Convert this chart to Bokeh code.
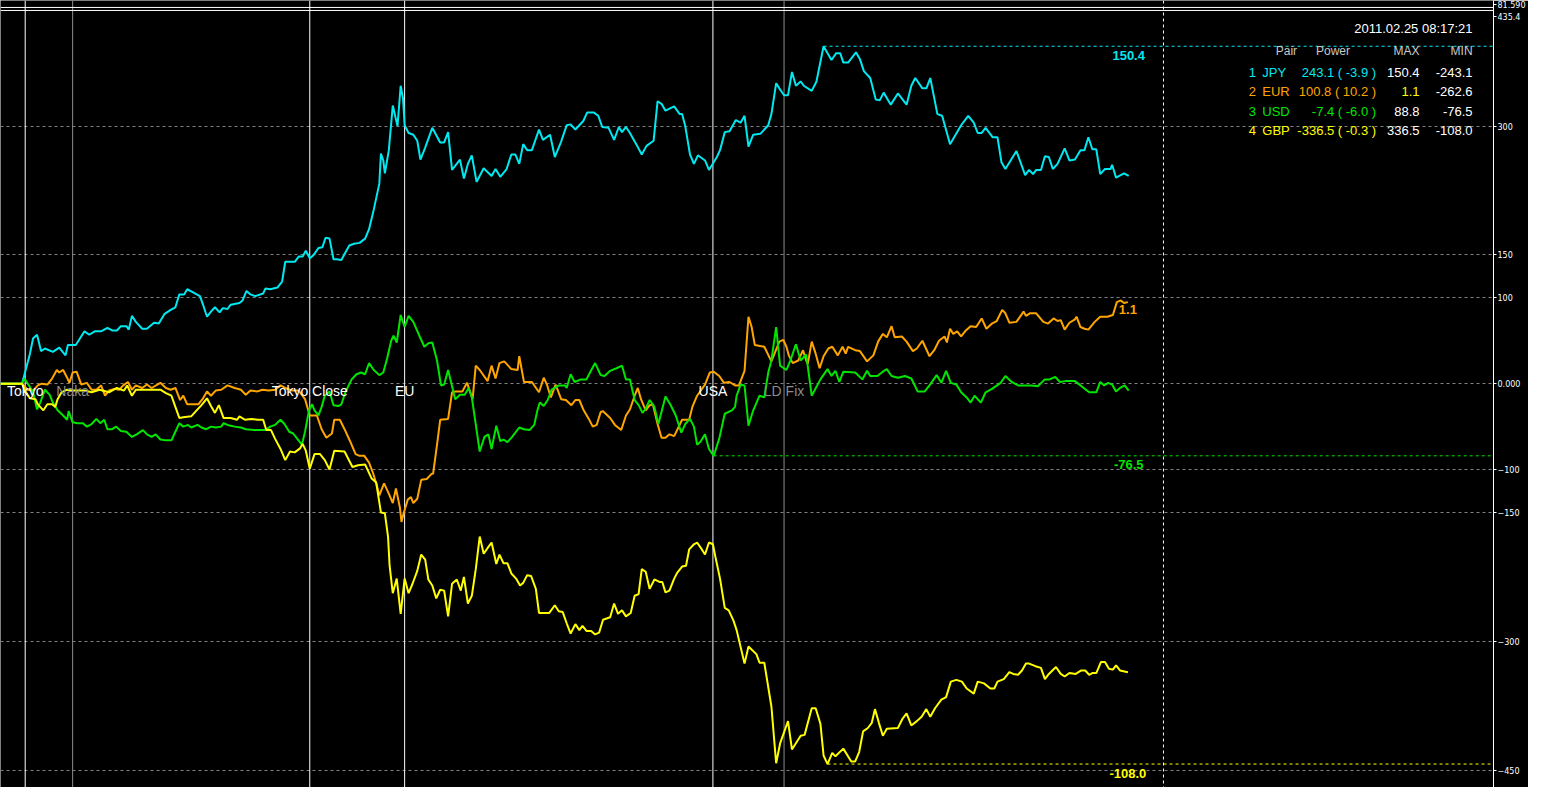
from bokeh.plotting import figure
from bokeh.models import Span, FixedTicker
from bokeh.core.properties import value
from bokeh.embed import file_html
from bokeh.resources import INLINE

# time = minutes from the Tokyo open (M5 bars), value = currency power
jpy_t = [-31, -4, 6, 10, 15, 20, 25, 35, 43, 51, 54, 64, 75, 81, 88, 96, 104, 110, 116, 121,
         128, 131, 135, 140, 148, 154, 163, 169, 176, 184, 190, 195, 201, 205, 213, 221, 225, 230, 235, 240,
         246, 250, 256, 260, 271, 275, 280, 285, 291, 301, 304, 310, 319, 325, 329, 341, 346, 351, 355, 360,
         365, 371, 376, 380, 385, 390, 394, 400, 404, 410, 416, 423, 430, 435, 441, 448, 450, 453, 455, 460,
         465, 471, 475, 478, 480, 485, 491, 496, 500, 506, 515, 525, 530, 535, 540, 550, 555, 560, 565, 571,
         580, 590, 595, 601, 609, 615, 620, 625, 630, 635, 641, 650, 655, 664, 670, 678, 685, 690, 696, 706,
         711, 719, 725, 730, 738, 745, 751, 755, 760, 765, 773, 780, 786, 795, 800, 805, 810, 821, 828, 831,
         835, 841, 846, 851, 860, 865, 875, 879, 885, 891, 899, 905, 910, 915, 921, 930, 940, 944, 950, 954,
         960, 965, 970, 975, 981, 985, 995, 1001, 1010, 1020, 1026, 1031, 1035, 1041, 1051, 1056, 1061, 1069, 1076, 1081,
         1086, 1095, 1104, 1115, 1121, 1126, 1135, 1140, 1145, 1154, 1160, 1170, 1184, 1193, 1200, 1205, 1210, 1215, 1224, 1230,
         1235, 1240, 1254, 1265, 1270, 1275, 1279, 1285, 1290, 1295, 1300, 1306, 1315, 1321, 1328, 1335, 1340, 1345, 1350, 1355,
         1360, 1366, 1373, 1375, 1380, 1390, 1396]
jpy_v = [0, 0, 35, 53, 57, 38, 41, 37, 42, 33, 45, 45, 61, 57, 61, 61, 65, 62, 62, 67,
         67, 63, 79, 72, 64, 64, 71, 70, 81, 86, 89, 104, 104, 110, 106, 102, 92, 78, 84, 89,
         83, 88, 87, 92, 94, 97, 108, 104, 102, 105, 111, 110, 112, 119, 142, 142, 148, 148, 155, 146,
         150, 158, 159, 170, 169, 145, 145, 144, 151, 161, 163, 164, 169, 180, 203, 233, 268, 260, 245, 272,
         324, 300, 347, 332, 301, 292, 290, 283, 261, 275, 298, 281, 281, 293, 249, 261, 239, 256, 266, 235,
         251, 242, 250, 241, 250, 267, 267, 256, 279, 272, 272, 296, 284, 290, 264, 282, 301, 302, 296, 306,
         316, 316, 312, 299, 298, 284, 299, 293, 299, 292, 279, 267, 277, 283, 329, 326, 318, 323, 314, 314,
         300, 267, 256, 266, 260, 249, 264, 272, 293, 294, 307, 304, 312, 276, 290, 291, 301, 314, 350, 344,
         336, 336, 363, 347, 352, 347, 341, 352, 393, 377, 385, 385, 374, 374, 386, 378, 364, 356, 331, 330,
         339, 325, 338, 325, 347, 356, 344, 344, 356, 314, 312, 279, 301, 312, 304, 292, 292, 298, 287, 287,
         258, 250, 271, 243, 249, 244, 249, 249, 265, 264, 250, 256, 274, 260, 261, 272, 272, 287, 273, 273,
         244, 250, 250, 255, 240, 245, 242]

eur_t = [-31, -4, 3, 10, 16, 21, 28, 34, 40, 43, 48, 53, 56, 60, 65, 71, 78, 84, 90, 96,
         101, 106, 113, 119, 124, 130, 135, 140, 148, 154, 160, 171, 178, 184, 190, 196, 200, 205, 219, 225,
         230, 235, 241, 248, 256, 265, 273, 279, 285, 294, 300, 308, 316, 323, 329, 338, 346, 354, 360, 369,
         375, 381, 388, 391, 398, 404, 411, 418, 423, 429, 435, 440, 444, 448, 454, 460, 465, 469, 474, 476,
         479, 484, 488, 491, 496, 501, 508, 514, 516, 521, 525, 535, 540, 544, 553, 559, 566, 570, 575, 585,
         590, 595, 600, 606, 615, 623, 625, 631, 641, 650, 656, 660, 665, 671, 678, 684, 691, 696, 701, 706,
         713, 718, 723, 728, 731, 740, 746, 754, 760, 765, 771, 775, 779, 785, 790, 794, 800, 805, 810, 815,
         821, 831, 840, 844, 850, 860, 866, 871, 878, 884, 891, 898, 903, 910, 915, 919, 923, 935, 944, 954,
         959, 963, 966, 971, 978, 984, 988, 990, 995, 1000, 1005, 1010, 1016, 1021, 1028, 1034, 1038, 1041, 1050, 1056,
         1065, 1073, 1079, 1085, 1090, 1096, 1100, 1109, 1115, 1123, 1128, 1135, 1144, 1150, 1156, 1163, 1166, 1170, 1174, 1179,
         1184, 1190, 1196, 1203, 1210, 1216, 1223, 1229, 1236, 1240, 1245, 1254, 1263, 1266, 1271, 1279, 1288, 1294, 1301, 1306,
         1310, 1315, 1321, 1328, 1330, 1335, 1340, 1345, 1353, 1360, 1369, 1376, 1381, 1386, 1390, 1395]
eur_v = [0, 0, -7, -8, -2, 0, -1, 6, 16, 13, 16, 7, 1, 13, 14, -1, 1, -7, -7, -2,
         -14, -8, -6, -7, -2, 2, -7, -2, -5, -1, -5, 1, -5, -7, -5, -19, -14, -24, -24, -17,
         -9, -14, -8, -7, -2, -5, -7, -13, -8, -9, -7, -8, -7, -2, -5, -8, -8, -18, -37, -37,
         -53, -63, -58, -42, -42, -53, -67, -82, -84, -84, -92, -104, -116, -130, -116, -128, -139, -122, -144, -161,
         -150, -135, -132, -139, -134, -112, -111, -105, -105, -71, -42, -41, -10, -9, -9, 1, -18, 21, 16, 3,
         21, 6, 24, 26, 17, 16, 32, 2, 2, -10, 7, -1, -16, -1, -18, -19, -25, -19, -19, -30,
         -41, -50, -48, -33, -32, -40, -48, -54, -37, -30, -14, -5, -18, -31, -25, -24, -47, -63, -63, -59,
         -61, -42, -42, -27, -14, -1, 13, 14, 9, 1, 2, -2, -2, 15, 78, 66, 45, 43, 26, 49,
         51, 43, 33, 24, 27, 39, 27, 23, 49, 35, 18, 32, 41, 43, 33, 43, 35, 43, 39, 38,
         26, 33, 49, 58, 54, 67, 54, 55, 49, 38, 41, 50, 32, 39, 50, 55, 48, 64, 58, 61,
         55, 62, 67, 66, 76, 64, 70, 73, 86, 82, 71, 72, 84, 79, 82, 82, 72, 70, 76, 73,
         74, 63, 71, 75, 78, 66, 64, 63, 72, 78, 78, 80, 95, 97, 94, 95]

usd_t = [-31, -4, -1, 4, 10, 15, 19, 25, 31, 35, 41, 48, 53, 55, 60, 66, 73, 78, 84, 90,
         95, 100, 104, 110, 115, 121, 128, 135, 141, 149, 154, 160, 165, 171, 178, 185, 190, 195, 200, 206,
         210, 218, 223, 229, 235, 241, 248, 251, 256, 265, 273, 279, 290, 298, 304, 310, 316, 323, 328, 334,
         339, 344, 350, 354, 359, 363, 366, 371, 375, 379, 385, 390, 396, 400, 405, 413, 419, 425, 430, 435,
         441, 448, 453, 458, 463, 466, 470, 475, 480, 485, 491, 499, 505, 510, 515, 521, 526, 530, 535, 544,
         550, 556, 561, 565, 575, 581, 586, 590, 596, 601, 605, 610, 616, 625, 631, 638, 644, 648, 651, 656,
         661, 666, 675, 683, 685, 690, 695, 703, 710, 715, 721, 728, 733, 740, 748, 755, 760, 765, 771, 776,
         781, 785, 790, 796, 801, 810, 816, 823, 830, 835, 841, 846, 850, 854, 860, 865, 871, 878, 885, 894,
         898, 900, 905, 910, 915, 921, 929, 935, 940, 944, 950, 955, 963, 968, 975, 981, 988, 995, 1006, 1015,
         1020, 1025, 1030, 1035, 1050, 1059, 1065, 1069, 1078, 1085, 1090, 1096, 1104, 1113, 1121, 1129, 1138, 1144, 1153, 1159,
         1165, 1171, 1178, 1184, 1191, 1196, 1201, 1209, 1215, 1223, 1234, 1240, 1248, 1256, 1273, 1281, 1290, 1296, 1303, 1309,
         1316, 1328, 1335, 1346, 1355, 1360, 1365, 1370, 1375, 1380, 1385, 1391, 1396]
usd_v = [0, 0, 6, -1, -10, -30, -22, -7, -13, -22, -31, -37, -42, -32, -45, -46, -46, -50, -47, -41,
         -46, -42, -53, -53, -50, -55, -56, -62, -59, -54, -59, -62, -59, -65, -66, -66, -56, -46, -50, -48,
         -51, -48, -51, -53, -50, -51, -50, -46, -48, -50, -51, -53, -54, -54, -54, -50, -48, -42, -47, -56,
         -58, -64, -71, -56, -31, -24, -31, -37, -27, -14, -9, -25, -26, -24, -10, 5, 11, 13, 11, 24,
         16, 10, 13, 30, 50, 56, 48, 80, 66, 79, 72, 55, 43, 47, 48, 27, -2, -1, 16, -18,
         -13, -13, -5, -16, -79, -62, -59, -76, -49, -67, -65, -68, -62, -51, -53, -54, -48, -31, -22, -26,
         -19, -7, -2, -2, -5, 11, 2, 5, 5, 14, 24, 10, 9, 15, 18, 21, 5, 5, -19, -25,
         -34, -29, -19, -27, -47, -15, -24, -37, -57, -47, -41, -50, -71, -68, -59, -76, -84, -64, -35, -31,
         -27, -14, -1, -2, -49, -31, -14, -16, 13, 27, 66, 21, 16, 27, 46, 27, 34, -14, 5, 17,
         9, 15, 2, 14, 13, 5, 15, 9, 9, 14, 17, 9, 7, 9, 6, -9, -9, -2, 10, 1,
         15, 1, -1, -10, -16, -22, -14, -22, -10, -6, 1, 9, 2, -2, -2, -3, 5, 5, 8, 2,
         3, 3, -2, -10, -10, 2, -2, 1, -1, -9, -5, -2, -8]

gbp_t = [-31, -4, -1, 3, 6, 13, 16, 23, 28, 34, 38, 41, 46, 53, 59, 75, 84, 94, 106, 116,
         125, 129, 135, 140, 153, 165, 171, 178, 185, 190, 195, 200, 210, 216, 223, 230, 235, 240, 245, 251,
         260, 268, 271, 278, 286, 294, 301, 305, 311, 316, 323, 329, 335, 341, 348, 351, 355, 360, 366, 373,
         379, 385, 391, 404, 414, 421, 430, 438, 444, 450, 455, 459, 461, 465, 470, 475, 480, 485, 490, 496,
         501, 506, 510, 515, 520, 525, 530, 535, 540, 546, 551, 555, 560, 565, 570, 575, 580, 586, 590, 596,
         600, 605, 610, 615, 621, 626, 630, 635, 640, 646, 650, 663, 670, 675, 680, 685, 690, 696, 701, 705,
         710, 716, 721, 726, 731, 740, 745, 750, 755, 760, 766, 771, 776, 780, 785, 790, 796, 803, 806, 810,
         815, 821, 825, 831, 836, 840, 846, 850, 856, 860, 865, 870, 873, 879, 885, 890, 896, 900, 910, 915,
         925, 929, 935, 944, 950, 955, 965, 970, 981, 986, 995, 1000, 1006, 1010, 1015, 1021, 1025, 1035, 1045, 1050,
         1055, 1060, 1066, 1071, 1075, 1080, 1085, 1090, 1104, 1110, 1115, 1121, 1128, 1134, 1140, 1145, 1151, 1159, 1165, 1171,
         1178, 1185, 1191, 1200, 1205, 1213, 1221, 1226, 1230, 1238, 1245, 1250, 1256, 1261, 1266, 1270, 1278, 1285, 1290, 1295,
         1304, 1310, 1315, 1321, 1329, 1336, 1341, 1346, 1350, 1355, 1361, 1366, 1371, 1376, 1380, 1385, 1395]
gbp_v = [0, 0, -7, -13, -17, -18, -24, -31, -24, -24, -27, -18, -10, -7, -8, -8, -10, -7, -10, -5,
         -8, -2, -14, -7, -7, -7, -7, -11, -14, -27, -40, -39, -38, -32, -25, -17, -26, -34, -25, -40,
         -40, -42, -38, -42, -41, -42, -42, -54, -54, -64, -76, -89, -79, -80, -75, -70, -78, -99, -82, -82,
         -89, -100, -78, -79, -97, -95, -94, -110, -115, -150, -151, -178, -212, -244, -227, -268, -227, -244, -233, -218,
         -199, -205, -228, -235, -250, -240, -241, -271, -233, -228, -241, -225, -256, -247, -216, -178, -198, -190, -185, -210,
         -199, -209, -209, -221, -227, -235, -232, -223, -224, -239, -267, -267, -258, -265, -266, -279, -291, -280, -287, -282,
         -288, -288, -292, -290, -275, -272, -256, -268, -264, -271, -267, -247, -245, -216, -219, -239, -228, -231, -231, -243,
         -241, -227, -220, -213, -212, -193, -187, -185, -193, -199, -185, -187, -201, -227, -261, -264, -276, -287, -326, -306,
         -315, -325, -325, -376, -442, -419, -393, -426, -410, -409, -378, -378, -396, -433, -443, -430, -434, -425, -440, -440,
         -429, -405, -401, -395, -379, -395, -410, -402, -401, -390, -384, -398, -393, -388, -379, -388, -378, -368, -365, -347,
         -345, -347, -355, -361, -347, -349, -355, -355, -347, -344, -336, -338, -339, -334, -326, -326, -329, -331, -344, -338,
         -330, -338, -341, -337, -338, -334, -334, -339, -337, -337, -324, -324, -332, -333, -328, -334, -336]

pairs = ["JPY", "EUR", "USD", "GBP"]
power = ["243.1", "100.8", "-7.4", "-336.5"]
change = ["-3.9", "10.2", "-6.0", "-0.3"]
max_vals = ["150.4", "1.1", "88.8", "336.5"]
min_vals = ["-243.1", "-262.6", "-76.5", "-108.0"]
timestamp = "2011.02.25 08:17:21"

sessions = ["Tokyo", "Naka", "Tokyo Close", "EU", "USA", "LD Fix"]
session_t = [0, 60, 360, 480, 870, 960]
next_day_t = 1440

axis_ticks = [441.8, 428, 300, 150, 100, 0, -100, -150, -300, -450]
axis_labels = {441.8: "81.590", 428: "435.4", 0: "0.000"}
grid_levels = [300, 150, 100, 0, -100, -150, -300, -450]

# styling
colors = ["#00e8f0", "#ffa500", "#00e600", "#ffff00"]
extreme_side = ["max", "max", "min", "min"]
extreme_line = [True, False, True, True]
session_colors = ["white", "#8c8c8c", "white", "white", "white", "#8c8c8c"]
max_colors = ["white", "#ffff00", "white", "white"]
FONT = value("Liberation Sans")

x_start, x_end = -31.25, 1857.5
y_bottom, y_top = -470.3, 446.3

p = figure(width=1528, height=787, x_range=(x_start, x_end), y_range=(y_bottom, y_top),
           x_axis_location=None, y_axis_location="right", toolbar_location=None,
           output_backend="svg", min_border_left=0, min_border_right=33,
           min_border_top=0, min_border_bottom=0)
p.background_fill_color = "black"
p.border_fill_color = "black"
p.outline_line_color = None

p.xgrid.grid_line_color = None
p.ygrid.ticker = FixedTicker(ticks=grid_levels)
p.ygrid.grid_line_color = "#808080"
p.ygrid.grid_line_dash = "3 3"

ax = p.yaxis[0]
ax.ticker = FixedTicker(ticks=axis_ticks)
ax.major_label_overrides = axis_labels
ax.axis_line_color = "white"
ax.major_tick_line_color = "white"
ax.major_tick_out = 3
ax.major_tick_in = 0
ax.minor_tick_line_color = None
ax.major_label_text_color = "white"
ax.major_label_text_font = "DejaVu Sans"
ax.major_label_text_font_size = "8px"
ax.major_label_standoff = 1

# separator between the price window and this sub window
for lvl in (438.2, 434.7):
    p.add_layout(Span(location=lvl, dimension="width", line_color="white", line_width=1))

# session lines
for t, c in zip(session_t, session_colors):
    p.add_layout(Span(location=t, dimension="height", line_color=c, line_width=1, level="underlay"))
p.add_layout(Span(location=next_day_t, dimension="height", line_color="white", line_width=1,
                  line_dash="3 3", level="underlay"))

series_t = [jpy_t, eur_t, usd_t, gbp_t]
series_v = [jpy_v, eur_v, usd_v, gbp_v]

for t, v, c in zip(series_t, series_v, colors):
    p.line(t, v, line_color=c, line_width=2)

for i, (t, v, c) in enumerate(zip(series_t, series_v, colors)):
    if extreme_side[i] == "max":
        k = v.index(max(v))
        txt = max_vals[i]
    else:
        k = v.index(min(v))
        txt = min_vals[i]
    if extreme_line[i]:
        p.segment(x0=[t[k]], y0=[v[k]], x1=[x_end], y1=[v[k]], line_color=c,
                  line_dash="3 3", line_width=1)
    p.text(x=[t[-1]], y=[v[k]], text=[txt], text_color=c, text_align="center",
           text_baseline="middle", y_offset=9, text_font=FONT, text_font_size="13px",
           text_font_style="bold")

p.text(x=session_t, y=[-9] * len(session_t), text=sessions, text_color=session_colors,
       text_align="center", text_baseline="middle", text_font=FONT, text_font_size="14px")

# summary table, top right
row_y = [363, 340, 317, 295]
p.text(x=[1831], y=[414], text=[timestamp], text_color="white", text_align="right",
       text_baseline="middle", text_font=FONT, text_font_size="13px")
p.text(x=[1609, 1676, 1764, 1831], y=[387] * 4, text=["Pair", "Power", "MAX", "MIN"],
       text_color="#c8c8c8", text_align="right", text_baseline="middle",
       text_font=FONT, text_font_size="12px")
p.text(x=[1557] * 4, y=row_y, text=[str(i + 1) for i in range(4)], text_color=colors,
       text_align="right", text_baseline="middle", text_font=FONT, text_font_size="13px")
p.text(x=[1565] * 4, y=row_y, text=pairs, text_color=colors,
       text_align="left", text_baseline="middle", text_font=FONT, text_font_size="13px")
p.text(x=[1709] * 4, y=row_y, text=[f"{a} ( {b} )" for a, b in zip(power, change)],
       text_color=colors, text_align="right", text_baseline="middle",
       text_font=FONT, text_font_size="13px")
p.text(x=[1764] * 4, y=row_y, text=max_vals, text_color=max_colors,
       text_align="right", text_baseline="middle", text_font=FONT, text_font_size="13px")
p.text(x=[1831] * 4, y=row_y, text=min_vals, text_color="white",
       text_align="right", text_baseline="middle", text_font=FONT, text_font_size="13px")

open("out.html", "w").write(file_html(p, INLINE))
